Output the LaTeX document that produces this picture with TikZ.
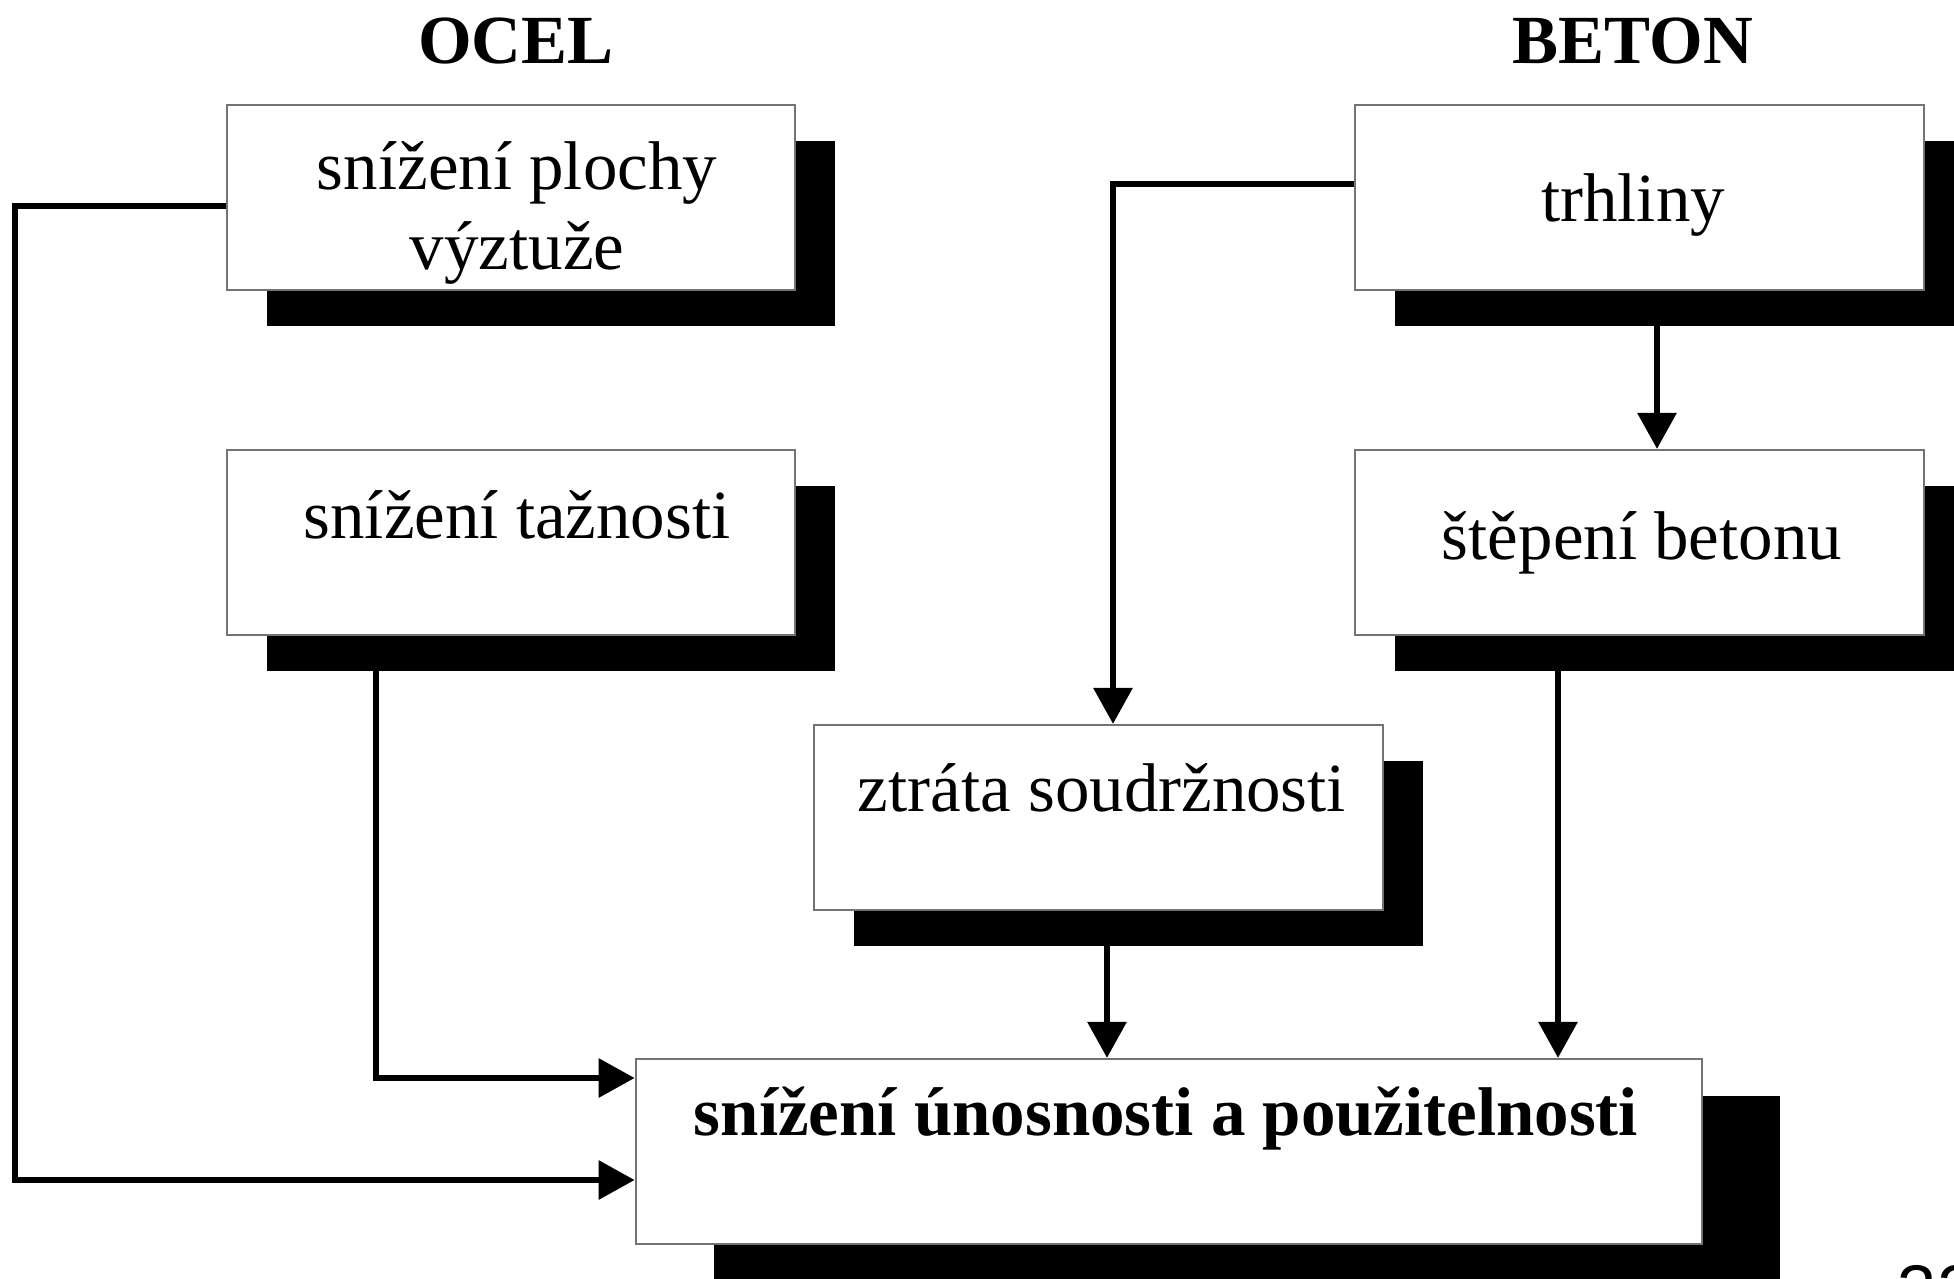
\documentclass[tikz,border=0pt]{standalone}
\usepackage{fontspec}
\setmainfont{Liberation Serif}
\newfontfamily\pgnumfont{Liberation Sans}
\usetikzlibrary{arrows.meta,shadows,backgrounds}
\pgfdeclarelayer{paper}
\pgfsetlayers{paper,background,main}
\begin{document}
\begin{tikzpicture}[x=0.01cm,y=-0.01cm,
  boxbase/.style={draw=black!55,line width=0.6pt,fill=white,minimum height=1.85cm},
  box/.style={boxbase,drop shadow={shadow xshift=0.40cm,shadow yshift=-0.36cm,fill=black,opacity=1}},
  wbox/.style={boxbase,drop shadow={shadow xshift=0.78cm,shadow yshift=-0.37cm,fill=black,opacity=1}},
  lbl/.style={font=\fontsize{19.6}{23}\selectfont,align=center,inner sep=0pt},
  ttl/.style={font=\bfseries\fontsize{19.6}{23}\selectfont,inner sep=0pt},
  conn/.style={line width=1.75pt,-{Triangle[length=0.36cm,width=0.38cm]}}]
\useasboundingbox (0,0) rectangle (1954,1279);
\begin{pgfonlayer}{paper}
\fill[white] (0,0) rectangle (1954,1279);
\end{pgfonlayer}

% titles
\node[ttl] (ocel) at (516,41) {OCEL};
\node[ttl] (beton) at (1633,41) {BETON};

% boxes
\node[box,minimum width=5.68cm] (b1) at (511,197.5) {};
\node[box,minimum width=5.68cm] (b2) at (511,542.5) {};
\node[box,minimum width=5.68cm] (b3) at (1639.5,197.5) {};
\node[box,minimum width=5.68cm] (b4) at (1639.5,542.5) {};
\node[box,minimum width=5.69cm] (b5) at (1098.5,817.5) {};
\node[wbox,minimum width=10.66cm] (b6) at (1169,1151.5) {};

% texts
\node[lbl] (t1) at (517,213) {snížení plochy\\výztuže};
\node[lbl] (t2) at (517,515) {snížení tažnosti};
\node[lbl] (t3) at (1633,205) {trhliny};
\node[lbl] (t4) at (1642,543) {štěpení betonu};
\node[lbl] (t5) at (1102,788) {ztráta soudržnosti};
\node[ttl] (t6) at (1166,1119) {snížení únosnosti a použitelnosti};

% page number (cut by the page edge, as in the reference)
\node[font=\pgnumfont\fontsize{20}{24}\selectfont,anchor=north,inner sep=0pt] (pg) at (1937,1265) {32};

% connector bend points
\coordinate (c1) at (15,1180);
\coordinate (c2) at (376,1078);
\coordinate (c3) at (1113,184);
\coordinate (c4) at (1657,0);
\coordinate (c5) at (1558,0);
\coordinate (c6) at (1107,0);

\begin{pgfonlayer}{background}
\draw[conn] (b1.west |- 0,206) -| (c1) -- (c1 -| b6.west);
\draw[conn] (c2 |- b2.south) -- (c2) -- (c2 -| b6.west);
\draw[conn] (b3.west |- c3) -- (c3) -- (c3 |- b5.north);
\draw[conn] (c4 |- b3.south) -- (c4 |- b4.north);
\draw[conn] (c5 |- b4.south) -- (c5 |- b6.north);
\draw[conn] (c6 |- b5.south) -- (c6 |- b6.north);
\end{pgfonlayer}
\end{tikzpicture}
\end{document}
